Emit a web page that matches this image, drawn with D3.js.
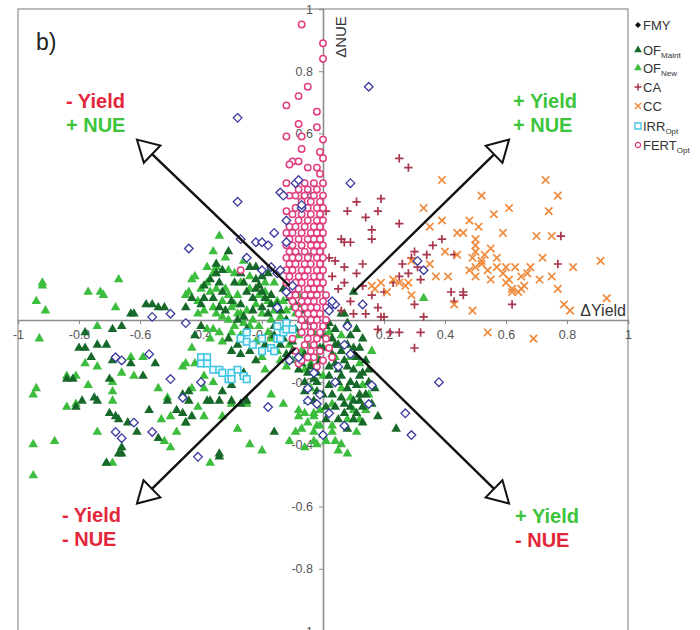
<!DOCTYPE html>
<html>
<head>
<meta charset="utf-8">
<script src="https://cdn.jsdelivr.net/npm/d3@7"></script>
<style>
  body { margin: 0; background: #fff; }
  svg { display: block; font-family: "Liberation Sans", Arial, sans-serif; }
</style>
</head>
<body>
<div id="chart"></div>
<script>
// values, [dYield, dNUE]
const fmy = [
  [-0.28,0.65],[-0.28,0.38],[-0.14,0.41],[-0.44,0.23],[-0.27,0.26],[-0.22,0.25],[-0.20,0.25],[-0.18,0.24],
  [-0.25,0.20],[-0.20,0.16],[-0.17,0.17],[-0.15,0.15],[-0.12,0.25],[-0.12,0.32],[-0.07,0.36],[-0.09,0.44],
  [0.03,0.05],[0.15,0.75],[0.09,0.44],[0.31,0.19],[0.33,0.16],[0.13,0.05],[0.04,0.05],[0.02,0.03],
  [-0.56,0.01],[-0.50,0.02],[-0.45,-0.01],[-0.57,-0.11],[-0.68,-0.12],[-0.66,-0.13],[-0.50,-0.19],[-0.46,-0.25],
  [-0.62,-0.33],[-0.68,-0.36],[-0.66,-0.38],[-0.56,-0.36],[-0.41,-0.44],[-0.40,-0.20],[-0.18,-0.28],
  [0.08,-0.02],[0.07,-0.08],[0.09,-0.11],[0.16,-0.21],[0.15,-0.27],[0.07,-0.34],[0.27,-0.30],[0.29,-0.37],
  [0.38,-0.20],[0.00,-0.37],[-0.05,-0.26],[-0.02,-0.27],[-0.14,0.16],[-0.15,0.04],[0.03,0.06],[-0.08,-0.12],
  [-0.11,-0.13],[-0.05,-0.22],[-0.01,-0.24],[0.04,-0.20],[0.02,-0.30],[-0.03,-0.17],[0.05,-0.15],[-0.13,0.40],
  [-0.10,0.11],[-0.08,0.45],[-0.07,0.37],[-0.16,0.28],[-0.12,0.09]
];
const ofMaint = [
  [-0.58,0.05],[-0.54,0.04],[-0.63,0.02],[-0.66,-0.02],[-0.69,-0.03],[-0.78,-0.04],[-0.80,-0.09],[-0.78,-0.09],
  [-0.74,-0.08],[-0.71,-0.08],[-0.76,-0.12],[-0.69,-0.13],[-0.63,-0.14],[-0.59,-0.18],[-0.55,-0.14],[-0.70,-0.19],
  [-0.75,-0.25],[-0.74,-0.26],[-0.79,-0.26],[-0.81,-0.28],[-0.70,-0.30],[-0.67,-0.32],[-0.61,-0.36],[-0.57,-0.29],
  [-0.48,-0.29],[-0.46,-0.30],[-0.51,-0.26],[-0.46,-0.24],[-0.45,-0.33],[-0.66,-0.41],[-0.66,-0.43],[-0.54,-0.38],
  [-0.52,0.04],[-0.84,-0.19],[-0.82,-0.19],[-0.68,-0.31],[-0.64,-0.33],[-0.67,-0.43],[-0.71,-0.46],[-0.38,-0.26],
  [-0.34,-0.26],[-0.30,-0.26],[-0.25,-0.26],[-0.16,-0.36],[-0.34,-0.44],
  [-0.35,0.18],[-0.33,0.16],[-0.39,0.11],[-0.34,0.12],[-0.43,0.07],[-0.39,0.07],[-0.34,0.04],[-0.27,0.05],
  [-0.25,0.09],[-0.22,0.10],[-0.19,0.07],[-0.17,0.05],[-0.22,0.13],[-0.23,0.03],[-0.26,0.01],[-0.40,-0.02],
  [-0.42,-0.05],[-0.30,-0.10],[-0.27,-0.11],[-0.22,-0.13],[-0.26,-0.17],[-0.30,-0.21],[-0.33,-0.23],[-0.44,-0.23],
  [-0.37,-0.26],[-0.44,-0.26],[-0.43,-0.31],[-0.27,-0.27],[-0.34,-0.43],[-0.14,-0.08],[-0.12,-0.11],
  [-0.31,0.22],[-0.35,0.15],[-0.22,0.17],[-0.26,0.12],[-0.21,0.11],[-0.20,0.14],[-0.29,0.12],[-0.15,0.05],
  [-0.13,0.10],[-0.11,0.07],[-0.56,0.05],[-0.62,0.02],[-0.45,0.04],
  [-0.37,0.13],[-0.33,0.09],[-0.30,0.06],[-0.28,0.00],[-0.25,-0.03],[-0.23,0.07],[-0.20,0.09],[-0.17,0.08],
  [-0.14,0.03],[-0.12,0.00],[-0.09,0.05],[-0.06,0.03],[-0.04,0.00],[-0.36,0.07],[-0.32,0.03],[-0.31,-0.06],
  [-0.28,-0.08],[-0.24,-0.10],[-0.19,-0.08],[-0.16,-0.05],[-0.13,-0.06],[-0.10,-0.10],[-0.27,0.15],[-0.24,0.17],
  [-0.18,0.15],[-0.40,0.05],
  [0.07,0.02],[0.13,-0.06],[0.13,-0.17],[0.15,-0.20],[0.12,-0.24],[0.13,-0.28],[0.10,-0.32],[0.24,-0.35],
  [0.10,-0.26],[0.08,-0.15],[0.06,-0.10],[0.03,-0.06],[-0.01,-0.13],[-0.03,-0.19],[0.02,-0.21],[0.06,-0.25],
  [0.01,-0.28],[-0.05,-0.26],[-0.01,-0.09],[-0.04,-0.15],[0.05,-0.16],[0.09,-0.20],[0.10,-0.09],[0.10,0.09],
  [0.06,0.02],[0.04,-0.03],[0.00,-0.05],[-0.03,-0.08],[-0.06,-0.11],[-0.08,-0.16],[-0.06,-0.20],[-0.02,-0.23],
  [0.03,-0.11],[0.07,-0.13],[0.11,-0.12],[0.08,-0.22],[0.04,-0.28],[0.07,-0.30],[0.00,-0.24],[-0.02,-0.17],
  [0.12,-0.18],[0.14,-0.24],[0.05,-0.20],[-0.04,-0.04],[0.02,-0.15],[0.09,-0.05],[0.11,-0.30],[0.16,-0.27],
  [0.18,-0.31],[0.05,-0.08],[-0.09,-0.03],[-0.07,0.00],[-0.10,-0.07],[-0.18,0.02],[-0.16,-0.02],[-0.20,0.04],
  [0.01,-0.02],[0.04,-0.08],[0.08,-0.08],[0.12,-0.09],[0.14,-0.13],[0.10,-0.16],[0.06,-0.18],[0.02,-0.18],
  [-0.02,-0.20],[0.03,-0.24],[0.07,-0.27],[0.11,-0.21],[0.15,-0.16],[0.09,-0.28],[0.05,-0.32],[0.01,-0.32],
  [-0.03,-0.26],[-0.06,-0.23],[-0.07,-0.14],[-0.04,-0.11],[0.00,-0.09],[0.02,-0.01],[0.08,-0.01],[0.11,-0.03],
  [0.17,-0.22],[0.13,-0.33],[0.08,-0.35],[-0.05,-0.17],[0.12,-0.26],[0.04,-0.14]
];
const ofNew = [
  [-0.92,0.11],[-0.94,0.06],[-0.91,0.03],[-0.67,0.13],[-0.77,0.09],[-0.72,0.08],[-0.68,0.04],[-0.93,-0.06],
  [-0.74,-0.02],[-0.78,-0.14],[-0.74,-0.15],[-0.84,-0.18],[-0.81,-0.18],[-0.77,-0.21],[-0.94,-0.22],[-0.95,-0.24],
  [-0.69,-0.20],[-0.69,-0.23],[-0.69,-0.26],[-0.84,-0.28],[-0.81,-0.27],[-0.66,-0.17],[-0.62,-0.18],[-0.63,-0.12],
  [-0.59,-0.12],[-0.46,-0.15],[-0.54,-0.22],[-0.51,-0.25],[-0.53,-0.32],[-0.50,-0.31],[-0.74,-0.36],[-0.88,-0.39],
  [-0.95,-0.40],[-0.52,-0.39],[-0.50,-0.41],[-0.48,-0.36],[-0.71,-0.46],[-0.69,-0.46],[-0.95,-0.50],[-0.43,0.13],
  [-0.44,0.09],
  [-0.42,0.14],[-0.36,0.15],[-0.37,0.09],[-0.41,0.06],[-0.33,0.06],[-0.28,0.08],[-0.30,0.04],[-0.25,0.03],
  [-0.22,0.05],[-0.20,0.02],[-0.17,0.00],[-0.21,-0.02],[-0.35,0.02],[-0.31,0.00],[-0.36,-0.03],[-0.30,-0.04],
  [-0.33,-0.07],[-0.37,-0.06],[-0.43,-0.09],[-0.45,-0.14],[-0.42,-0.14],[-0.39,-0.18],[-0.36,-0.20],[-0.43,-0.22],
  [-0.39,-0.22],[-0.41,-0.28],[-0.39,-0.31],[-0.45,-0.33],[-0.33,-0.31],[-0.28,-0.35],[-0.24,-0.40],[-0.20,-0.42],
  [-0.37,-0.46],[-0.30,-0.27],[-0.25,-0.27],[-0.17,-0.24],[-0.13,-0.27],[-0.11,-0.39],[-0.09,-0.36],[-0.06,-0.41],
  [-0.03,-0.36],[-0.02,-0.34],[-0.03,-0.30],[-0.06,-0.30],[-0.08,-0.31],[-0.10,-0.13],[-0.12,-0.15],[-0.14,-0.13],
  [-0.19,-0.16],[-0.20,-0.12],
  [-0.34,0.27],[-0.36,0.22],[-0.35,0.17],[-0.31,0.16],[-0.40,0.10],[-0.92,0.12],[-0.73,0.09],[-0.45,0.08],
  [-0.36,0.04],
  [0.01,-0.39],[0.06,-0.40],[0.08,-0.43],[0.03,-0.36],[-0.01,-0.34],[-0.03,-0.39],[-0.07,-0.35],[0.06,-0.05],
  [0.12,-0.14],[0.14,-0.29],[0.10,-0.29],[0.03,-0.34],[-0.03,-0.31],[-0.08,-0.29],[0.33,0.07],[0.05,-0.42],
  [0.11,-0.36],[0.09,-0.25],[0.04,-0.12],[0.00,-0.18],[-0.04,-0.22],
  [-0.27,0.12],[-0.24,0.10],[-0.19,0.09],[-0.15,0.06],[-0.12,0.03],[-0.23,0.00],[-0.26,-0.01],[-0.18,-0.04],
  [-0.14,0.01],[-0.09,0.02],[-0.06,-0.02],[-0.28,0.02],[-0.32,0.10],[-0.16,0.12],[-0.11,0.08],[-0.07,0.05],
  [-0.05,-0.08],[-0.02,-0.12],
  [-0.38,0.12],[-0.35,0.10],[-0.31,0.08],[-0.29,0.05],[-0.27,0.02],[-0.24,-0.02],[-0.21,0.08],[-0.18,0.06],
  [-0.16,0.03],[-0.13,0.06],[-0.10,0.04],[-0.08,0.08],[-0.05,0.02],[-0.03,-0.04],[-0.39,0.03],[-0.33,0.01],
  [-0.29,-0.02],[-0.34,-0.04],[-0.27,-0.05],[-0.22,-0.07],[-0.17,-0.06],[-0.13,-0.03],[-0.11,-0.08],[-0.08,-0.05],
  [-0.24,0.14],[-0.19,0.12],[-0.29,0.15],[-0.26,0.19],[-0.38,0.17],[-0.32,0.20],[-0.41,0.02],[-0.38,-0.03],
  [-0.15,-0.10],[-0.07,-0.10],[-0.04,-0.14],
  [0.02,-0.04],[0.09,-0.12],[0.06,-0.22],[0.13,-0.21],[0.03,-0.27],[-0.01,-0.29],[0.08,-0.32],[0.12,-0.32],
  [0.00,-0.37],[0.04,-0.39],[-0.05,-0.33],[-0.02,-0.40],[0.15,-0.24],[0.16,-0.10],[-0.06,-0.16]
];
const ca = [
  [0.25,0.52],[0.28,0.49],[0.11,0.38],[0.19,0.39],[0.18,0.35],[0.14,0.33],[0.25,0.31],[0.16,0.29],
  [0.07,0.25],[0.09,0.25],[0.16,0.26],[0.01,0.35],[0.08,0.35],[0.06,0.26],[0.39,0.26],[0.78,0.27],
  [0.34,0.21],[0.30,0.22],[0.43,0.21],[0.31,0.17],[0.26,0.18],[0.07,0.17],[0.13,0.18],[0.04,0.19],
  [0.25,0.14],[0.32,0.13],[0.77,0.18],[0.42,0.09],[0.46,0.09],[0.46,0.08],[0.43,0.06],[0.62,0.05],
  [0.16,0.08],[0.20,0.09],[0.33,0.01],[0.10,0.02],[0.14,0.02],[0.19,0.01],[0.13,0.05],[0.05,0.10],
  [0.23,0.12],[0.36,0.24],[0.02,0.20],[0.18,0.04],[0.20,0.01],[0.25,-0.04],[0.32,-0.04],[0.30,-0.09],
  [0.18,-0.03],[0.22,-0.04],[0.30,0.05],[0.07,0.12],[0.11,0.15],[0.03,0.14],[0.09,0.06],[0.06,0.03],
  [0.28,0.15],[0.29,0.20],[0.13,0.11]
];
const cc = [
  [0.39,0.45],[0.73,0.45],[0.52,0.40],[0.77,0.40],[0.33,0.36],[0.56,0.34],[0.61,0.36],[0.74,0.35],
  [0.39,0.32],[0.48,0.32],[0.35,0.30],[0.44,0.28],[0.46,0.28],[0.51,0.30],[0.59,0.28],[0.70,0.27],
  [0.75,0.27],[0.50,0.26],[0.50,0.24],[0.55,0.23],[0.50,0.22],[0.40,0.22],[0.44,0.21],[0.49,0.20],
  [0.52,0.19],[0.57,0.20],[0.72,0.20],[0.91,0.19],[0.50,0.17],[0.52,0.18],[0.54,0.16],[0.57,0.17],
  [0.60,0.17],[0.63,0.17],[0.68,0.17],[0.82,0.17],[0.29,0.19],[0.35,0.18],[0.37,0.14],[0.41,0.14],
  [0.50,0.14],[0.59,0.15],[0.67,0.15],[0.75,0.14],[0.61,0.13],[0.65,0.14],[0.71,0.13],[0.62,0.10],
  [0.64,0.09],[0.65,0.10],[0.62,0.09],[0.77,0.10],[0.23,0.13],[0.25,0.12],[0.27,0.11],[0.28,0.12],
  [0.16,0.11],[0.21,0.09],[0.29,0.08],[0.43,0.05],[0.49,0.03],[0.79,0.05],[0.81,0.03],[0.93,0.07],
  [0.54,-0.04],[0.69,-0.06],[0.19,0.12],[0.17,0.10],[0.53,0.21],[0.48,0.16],[0.55,0.13],[0.66,0.11],
  [0.60,0.12]
];
const irrOpt = [
  [-0.40,-0.12],[-0.38,-0.12],[-0.40,-0.14],[-0.38,-0.14],[-0.36,-0.16],[-0.34,-0.16],[-0.33,-0.17],[-0.31,-0.19],
  [-0.30,-0.17],[-0.30,-0.19],[-0.28,-0.16],[-0.26,-0.18],[-0.25,-0.19],[-0.27,-0.06],[-0.25,-0.04],[-0.25,-0.07],
  [-0.23,-0.08],[-0.20,-0.06],[-0.20,-0.10],[-0.17,-0.09],[-0.16,-0.10],[-0.15,-0.06],[-0.14,-0.06],[-0.13,-0.04],
  [-0.12,-0.01],[-0.12,-0.03],[-0.10,-0.03],[-0.15,-0.02]
];
const fertOpt = [
  [-0.07,0.95],[0.00,0.89],[0.00,0.84],[-0.05,0.75],[-0.08,0.72],[-0.12,0.69],[-0.02,0.67],[-0.08,0.63],
  [-0.02,0.62],[-0.12,0.59],[-0.07,0.59],[0.00,0.58],[-0.07,0.55],[-0.01,0.54],[0.00,0.52],[-0.10,0.51],
  [-0.08,0.51],[-0.05,0.49],[-0.02,0.49],[-0.11,0.50],[-0.01,0.47],[-0.12,0.44],[-0.11,0.40],[-0.12,0.35],
  [-0.06,0.44],[-0.03,0.44],[0.00,0.44],[-0.08,0.42],[-0.05,0.42],[-0.02,0.42],
  [-0.09,0.40],[-0.06,0.40],[-0.03,0.40],[0.00,0.40],[-0.07,0.38],[-0.04,0.38],[-0.01,0.38],
  [-0.09,0.36],[-0.05,0.36],[-0.02,0.36],[0.00,0.36],[-0.10,0.34],[-0.07,0.34],[-0.04,0.34],[-0.01,0.34],
  [-0.08,0.32],[-0.05,0.32],[-0.02,0.32],[0.00,0.32],
  [-0.11,0.30],[-0.09,0.30],[-0.06,0.30],[-0.03,0.30],[-0.01,0.30],
  [-0.12,0.28],[-0.10,0.28],[-0.07,0.28],[-0.04,0.28],[-0.02,0.28],[0.00,0.28],
  [-0.11,0.26],[-0.08,0.26],[-0.05,0.26],[-0.03,0.26],[-0.01,0.26],
  [-0.12,0.24],[-0.10,0.24],[-0.07,0.24],[-0.04,0.24],[-0.02,0.24],[0.00,0.24],
  [-0.11,0.22],[-0.09,0.22],[-0.06,0.22],[-0.03,0.22],[-0.01,0.22],
  [-0.12,0.20],[-0.10,0.20],[-0.08,0.20],[-0.05,0.20],[-0.02,0.20],[0.00,0.20],
  [-0.11,0.18],[-0.09,0.18],[-0.06,0.18],[-0.04,0.18],[-0.01,0.18],
  [-0.12,0.16],[-0.10,0.16],[-0.07,0.16],[-0.05,0.16],[-0.02,0.16],[0.00,0.16],
  [-0.11,0.14],[-0.08,0.14],[-0.06,0.14],[-0.03,0.14],[-0.01,0.14],
  [-0.12,0.12],[-0.09,0.12],[-0.07,0.12],[-0.04,0.12],[-0.02,0.12],[0.00,0.12],
  [-0.10,0.10],[-0.08,0.10],[-0.05,0.10],[-0.03,0.10],[-0.01,0.10],
  [-0.11,0.08],[-0.09,0.08],[-0.06,0.08],[-0.04,0.08],[-0.02,0.08],[0.01,0.08],
  [-0.10,0.06],[-0.07,0.06],[-0.05,0.06],[-0.03,0.06],[0.00,0.06],
  [-0.09,0.04],[-0.06,0.04],[-0.04,0.04],[-0.02,0.04],[0.01,0.04],
  [-0.08,0.02],[-0.05,0.02],[-0.03,0.02],[-0.01,0.02],
  [-0.07,0.00],[-0.04,0.00],[-0.02,0.00],[0.01,0.00],
  [-0.06,-0.02],[-0.03,-0.02],[0.00,-0.02],[-0.07,-0.04],[-0.04,-0.04],[-0.01,-0.04],
  [-0.05,-0.06],[-0.02,-0.06],[0.01,-0.06],[-0.06,-0.08],[-0.03,-0.08],[-0.04,-0.10],[-0.01,-0.10],
  [-0.05,-0.12],[-0.27,0.16],[-0.08,-0.14],
  [-0.09,-0.10],[-0.07,-0.13],[-0.03,-0.12],[0.00,-0.13],[-0.10,-0.06],[0.02,-0.09],[-0.02,-0.15],[0.03,-0.12]
];

const seriesNames = ["FMY", "OF", "OF", "CA", "CC", "IRR", "FERT"];
const seriesSubs = ["", "Maint", "New", "", "", "Opt", "Opt"];
const axisTicks = [-1, -0.8, -0.6, -0.4, -0.2, 0, 0.2, 0.4, 0.6, 0.8, 1];
const tickLabels = ["-1", "-0.8", "-0.6", "-0.4", "-0.2", "0", "0.2", "0.4", "0.6", "0.8", "1"];
// arrows: [from, to] in chart units
const arrows = [
  [[-0.11, 0.11], [-0.61, 0.58]],
  [[0.10, 0.09], [0.61, 0.58]],
  [[-0.09, -0.09], [-0.61, -0.59]],
  [[0.10, -0.10], [0.61, -0.59]]
];
const quadLabels = [
  {x: 66, y: 108, t1: "- Yield", c1: "#e3263a", t2: "+ NUE", c2: "#3cc43c"},
  {x: 513, y: 108, t1: "+ Yield", c1: "#3cc43c", t2: "+ NUE", c2: "#3cc43c"},
  {x: 62, y: 522, t1: "- Yield", c1: "#e3263a", t2: "- NUE", c2: "#e3263a"},
  {x: 515, y: 523, t1: "+ Yield", c1: "#3cc43c", t2: "- NUE", c2: "#e3263a"}
];

const W = 700, H = 630;
const svg = d3.select("#chart").append("svg").attr("width", W).attr("height", H);

const x = d3.scaleLinear().domain([-1, 1]).range([18, 628]);
const y = d3.scaleLinear().domain([-1, 1]).range([631, 9]);

// frame
svg.append("rect")
  .attr("x", x(-1)).attr("y", y(1))
  .attr("width", x(1) - x(-1)).attr("height", y(-1) - y(1))
  .attr("fill", "none").attr("stroke", "#a6a6a6").attr("stroke-width", 1.5);

// axes through the origin
const xAxis = d3.axisBottom(x).tickValues(axisTicks).tickSize(4)
  .tickFormat((d, i) => tickLabels[i]);
const yAxis = d3.axisLeft(y).tickValues(axisTicks).tickSize(4)
  .tickFormat((d, i) => tickLabels[i]);

const gx = svg.append("g").attr("transform", "translate(0," + y(0) + ")").call(xAxis);
const gy = svg.append("g").attr("transform", "translate(" + x(0) + ",0)").call(yAxis);
[gx, gy].forEach(g => {
  g.select(".domain").attr("stroke", "#8c8c8c").attr("stroke-width", 1.6);
  g.selectAll(".tick line").attr("stroke", "#8c8c8c");
  g.selectAll(".tick text").attr("fill", "#555").style("font-size", "12.5px")
    .style("font-family", "'Liberation Sans', Arial, sans-serif");
});
gx.selectAll(".tick text").attr("dy", "0.95em");
gy.selectAll(".tick text").attr("x", -10);

// marker shapes
const tri = d3.symbol().type(d3.symbolTriangle).size(40)();
const diamond = "M0,-4.3L4.3,0L0,4.3L-4.3,0Z";
const plus = "M-4.2,0H4.2M0,-4.2V4.2";
const cross = "M-3.7,-3.7L3.7,3.7M-3.7,3.7L3.7,-3.7";

function draw(data, path, opts) {
  svg.append("g").selectAll("path").data(data).enter().append("path")
    .attr("d", path)
    .attr("transform", d => "translate(" + x(d[0]) + "," + y(d[1]) + ")")
    .attr("fill", opts.fill || "none")
    .attr("stroke", opts.stroke || "none")
    .attr("stroke-width", opts.sw || 0);
}

draw(ofNew, tri, {fill: "#3dbd3d"});
draw(ofMaint, tri, {fill: "#17692a"});
draw(ca, plus, {stroke: "#a8364c", sw: 1.7});
draw(cc, cross, {stroke: "#f08a3c", sw: 1.7});
draw(irrOpt, "M-3.3,-3.3H3.3V3.3H-3.3Z", {fill: "#eafaff", stroke: "#3ec3e3", sw: 1.5});
svg.append("g").selectAll("circle").data(fertOpt).enter().append("circle")
  .attr("cx", d => x(d[0])).attr("cy", d => y(d[1])).attr("r", 3.2)
  .attr("fill", "#fff").attr("stroke", "#e23d80").attr("stroke-width", 1.5);
draw(fmy, diamond, {fill: "#fff", stroke: "#3a3a9e", sw: 1.3});

// arrows with open triangle heads
const headLen = 21, headHalf = 12;
arrows.forEach(a => {
  const x0 = x(a[0][0]), y0 = y(a[0][1]), x1 = x(a[1][0]), y1 = y(a[1][1]);
  const dx = x1 - x0, dy = y1 - y0, len = Math.hypot(dx, dy);
  const ux = dx / len, uy = dy / len;
  const bx = x1 - ux * headLen, by = y1 - uy * headLen;
  svg.append("line").attr("x1", x0).attr("y1", y0).attr("x2", bx).attr("y2", by)
    .attr("stroke", "#111").attr("stroke-width", 2.4);
  const pts = [[x1, y1], [bx - uy * headHalf, by + ux * headHalf], [bx + uy * headHalf, by - ux * headHalf]];
  svg.append("path").attr("d", "M" + pts.map(p => p.join(",")).join("L") + "Z")
    .attr("fill", "#fff").attr("stroke", "#111").attr("stroke-width", 2);
});

// quadrant labels
quadLabels.forEach(q => {
  const t = svg.append("text").attr("x", q.x).attr("y", q.y)
    .style("font-size", "20px").style("font-weight", "bold");
  t.append("tspan").attr("fill", q.c1).text(q.t1);
  t.append("tspan").attr("x", q.x).attr("dy", 23.5).attr("fill", q.c2).text(q.t2);
});

// axis titles
svg.append("text").attr("transform", "translate(346,37) rotate(-90)")
  .attr("text-anchor", "middle").attr("fill", "#333").style("font-size", "15px").text("ΔNUE");
svg.append("text").attr("x", 626).attr("y", 316).attr("text-anchor", "end")
  .attr("fill", "#333").style("font-size", "16px").text("ΔYield");

// panel label
svg.append("text").attr("x", 36).attr("y", 50).attr("fill", "#222")
  .style("font-size", "23px").text("b)");

// legend
const legendY = [25, 50, 68, 87, 106, 126, 145];
const legendMarks = [
  {d: "M0,-3L3,0L0,3L-3,0Z", fill: "#111"},
  {d: d3.symbol().type(d3.symbolTriangle).size(26)(), fill: "#17692a"},
  {d: d3.symbol().type(d3.symbolTriangle).size(26)(), fill: "#3dbd3d"},
  {d: "M-3.5,0H3.5M0,-3.5V3.5", stroke: "#a8364c", sw: 1.5},
  {d: "M-3,-3L3,3M-3,3L3,-3", stroke: "#f08a3c", sw: 1.5},
  {d: "M-3,-3H3V3H-3Z", fill: "#fff", stroke: "#3ec3e3", sw: 1.3},
  {d: d3.symbol().type(d3.symbolCircle).size(22)(), fill: "#fff", stroke: "#e23d80", sw: 1.3}
];
const legend = svg.append("g");
seriesNames.forEach((name, i) => {
  const m = legendMarks[i];
  legend.append("path").attr("d", m.d)
    .attr("transform", "translate(638," + legendY[i] + ")")
    .attr("fill", m.fill || "none").attr("stroke", m.stroke || "none")
    .attr("stroke-width", m.sw || 0);
  const t = legend.append("text").attr("x", 643).attr("y", legendY[i] + 4.5)
    .attr("fill", "#333").style("font-size", "13px").text(name);
  if (seriesSubs[i]) {
    t.append("tspan").attr("dy", 3).style("font-size", "8px").text(seriesSubs[i]);
  }
});
</script>
</body>
</html>
